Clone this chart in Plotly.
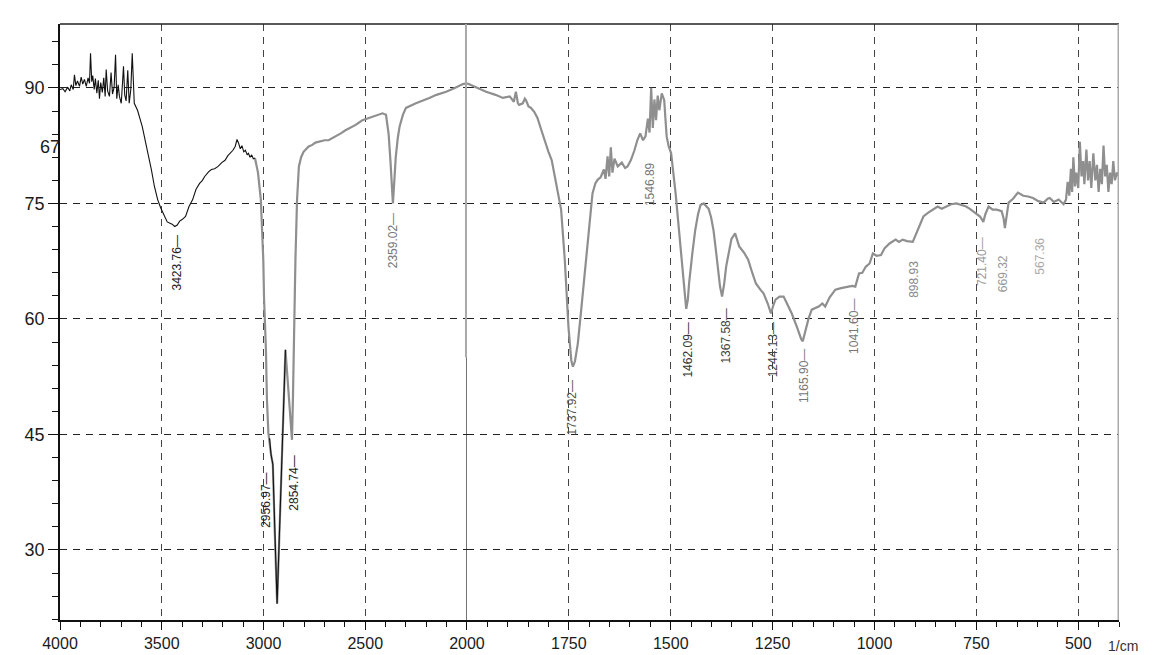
import plotly.graph_objects as go

# ---------------- data (wavenumber cm-1, %T) ----------------
# 4000-3042 (black, noisy O-H region)
wn_a = [4000, 3986, 3975, 3962, 3952, 3945, 3935, 3929, 3922, 3914, 3904, 3896, 3888, 3880,
        3871, 3862, 3855, 3850, 3844, 3839, 3832, 3826, 3819, 3812, 3806, 3800, 3792, 3785,
        3778, 3773, 3766, 3757, 3749, 3742, 3734, 3727, 3721, 3714, 3708, 3699, 3692, 3688,
        3682, 3675, 3667, 3660, 3652, 3645, 3635, 3619, 3596, 3581, 3566, 3551, 3536, 3520,
        3505, 3489, 3473, 3449, 3436, 3424, 3412, 3400, 3383, 3366, 3348, 3332, 3314, 3300,
        3289, 3270, 3256, 3240, 3223, 3205, 3189, 3175, 3164, 3150, 3139, 3130, 3122, 3114,
        3106, 3097, 3089, 3080, 3074, 3066, 3058, 3050, 3042]
t_a = [89.8, 89.9, 89.5, 90.1, 89.6, 90.4, 89.8, 91.7, 90.3, 90.9, 90.2, 91.4, 90.5, 91.1,
       90.2, 91.3, 90.6, 94.5, 90.8, 91.6, 89.8, 91.2, 89.3, 91.0, 88.6, 90.7, 89.4, 91.3,
       88.9, 92.4, 89.6, 88.9, 92.0, 89.2, 90.1, 94.3, 88.6, 90.4, 88.9, 88.0, 91.0, 92.8,
       89.1, 88.3, 92.3, 88.0, 89.8, 94.5, 88.0, 87.1, 85.0, 83.2, 81.1, 79.4, 77.2, 75.5,
       74.4, 73.5, 72.6, 72.3, 72.0, 72.2, 72.7, 72.9, 73.3, 74.6, 75.5, 76.8, 77.6, 78.0,
       78.5, 79.1, 79.4, 79.5, 79.8, 80.3, 80.6, 81.2, 81.5, 81.9, 82.4, 83.3, 82.8, 82.1,
       82.5, 81.7, 81.9, 81.3, 81.5, 81.0, 81.3, 80.8, 80.9]

# 3042-2000 (grey)
wn_b = [3042, 3027, 3013, 3007, 3001, 2997, 2988, 2983, 2976, 2963, 2954, 2945, 2933, 2892,
        2880, 2870, 2860, 2855, 2850, 2846, 2843, 2835, 2826, 2815, 2803, 2778, 2760, 2745,
        2729, 2700, 2680, 2665, 2647, 2620, 2597, 2570, 2547, 2514, 2490, 2465, 2440, 2415,
        2398, 2385, 2376, 2368, 2364, 2358, 2350, 2340, 2331, 2315, 2300, 2251, 2220, 2185,
        2150, 2102, 2060, 2020, 2000]
t_b = [80.9, 79.0, 75.5, 72.0, 67.7, 62.5, 56.0, 49.5, 45.2, 42.4, 41.1, 32.6, 23.0, 56.0,
       52.0, 47.5, 44.3, 50.0, 58.0, 62.5, 67.7, 75.5, 79.8, 81.0, 81.7, 82.4, 82.6, 82.9,
       83.0, 83.2, 83.2, 83.4, 83.7, 84.1, 84.5, 84.9, 85.2, 85.8, 86.0, 86.3, 86.5, 86.7,
       86.5, 84.0, 80.5, 76.5, 75.0, 77.5, 81.0, 83.5, 85.0, 86.5, 87.4, 88.0, 88.3, 88.7,
       89.1, 89.5, 90.0, 90.5, 90.6]

# black overlay of the C-H doublet bottom
wn_c = [2970, 2963, 2954, 2945, 2933, 2892]
t_c = [44.5, 42.4, 41.1, 32.6, 23.0, 56.0]

# 2000-400 (grey)
wn_d = [2000, 1975, 1953, 1930, 1912, 1895, 1885, 1880, 1875, 1872, 1863, 1858, 1855, 1849,
        1843, 1835, 1827, 1818, 1808, 1800, 1792, 1781, 1769, 1760, 1751, 1744, 1740, 1735,
        1728, 1720, 1712, 1702, 1692, 1685, 1679, 1672, 1664, 1660, 1655, 1651, 1647, 1643,
        1638, 1630, 1620, 1612, 1606, 1598, 1589, 1582, 1575, 1568, 1562, 1556, 1552, 1548,
        1544, 1540, 1536, 1532, 1528, 1522, 1516, 1513, 1510, 1505, 1499, 1488, 1477, 1467,
        1462, 1458, 1455, 1447, 1440, 1433, 1427, 1419, 1412, 1407, 1401, 1395, 1390, 1385,
        1379, 1374, 1369, 1364, 1357, 1351, 1342, 1332, 1320, 1310, 1300, 1291, 1280, 1272,
        1262, 1254, 1248, 1243, 1233, 1223, 1213, 1203, 1190, 1180, 1176, 1170, 1162, 1154,
        1145, 1137, 1128, 1121, 1110, 1096, 1082, 1067, 1055, 1047, 1038, 1030, 1021, 1012,
        1004, 995, 984, 975, 963, 948, 940, 931, 920, 906, 895, 880, 868, 856, 845, 835, 824,
        812, 799, 785, 775, 766, 755, 741, 735, 733, 728, 720, 710, 700, 688, 683, 680, 676,
        671, 660, 648, 635, 623, 611, 598, 585, 575, 570, 560, 548, 536, 530, 526, 522, 518,
        515, 512, 508, 505, 500, 496, 492, 488, 485, 480, 476, 472, 468, 463, 458, 454, 450,
        446, 442, 438, 434, 430, 426, 422, 418, 414, 410, 405, 400]
t_d = [90.6, 90.0, 89.5, 89.1, 88.7, 88.9, 88.2, 89.5, 88.0, 87.8, 88.0, 88.6, 88.4, 87.6,
       87.4, 86.9, 86.1, 84.6, 82.8, 81.7, 80.6, 77.6, 74.2, 67.7, 59.0, 54.6, 53.8, 54.5,
       56.8, 61.0, 65.5, 71.1, 76.3, 77.6, 78.1, 78.4, 79.4, 78.2, 81.1, 78.5, 82.3, 79.0,
       80.8, 79.8, 80.3, 79.6, 79.8, 80.6, 81.9, 83.2, 84.1, 83.2, 83.7, 86.0, 84.2, 90.0,
       84.8, 88.5, 85.8, 89.0, 87.1, 89.3, 88.4, 86.0, 83.7, 82.4, 81.5, 76.3, 69.8, 63.3,
       61.3, 62.5, 64.6, 68.5, 71.5, 73.6, 74.8, 75.0, 74.5, 74.3, 73.2, 71.5, 69.3, 66.8,
       64.2, 62.9, 64.5, 66.8, 69.0, 70.4, 71.1, 69.4, 68.6, 67.7, 66.0, 64.6, 63.8, 63.3,
       62.0, 60.7, 61.8, 62.5, 62.9, 62.9, 61.8, 60.7, 58.9, 57.4, 57.1, 58.3, 60.0, 61.2,
       61.4, 61.6, 62.0, 61.6, 62.8, 63.8, 64.0, 64.2, 64.3, 64.2, 65.9, 66.0, 66.8, 67.2,
       68.5, 68.2, 68.3, 69.2, 69.8, 70.3, 70.0, 70.3, 70.1, 70.0, 71.5, 73.3, 73.8, 74.2,
       74.6, 74.3, 74.6, 74.9, 75.0, 74.8, 74.6, 74.3, 73.9, 73.3, 72.8, 72.6, 73.6, 74.6,
       74.2, 74.2, 74.0, 73.0, 71.8, 73.5, 75.1, 75.6, 76.4, 76.0, 75.9, 75.7, 75.3, 75.1,
       75.6, 75.7, 75.2, 75.5, 74.9, 75.5, 77.8, 76.0, 79.5, 76.5, 81.0, 77.2, 79.0, 77.0,
       83.0, 78.5, 80.5, 77.5, 82.0, 78.0, 80.5, 77.0, 81.5, 78.0, 80.0, 76.5, 79.5, 77.5,
       82.5, 78.5, 80.0, 76.5, 79.0, 77.5, 80.5, 78.0, 79.0, 78.5]

# peak labels
lab_text = ["3423.76\u2014", "2956.97\u2014", "2854.74\u2014", "2359.02\u2014",
            "1737.92\u2014", "1546.89", "1462.09\u2014", "1367.58\u2014", "1244.13\u2014",
            "1165.90\u2014", "1041.60\u2014", "898.93", "721.40\u2014", "669.32", "567.36"]
lab_wn = [3425, 2988, 2850, 2364, 1740, 1551, 1458, 1365, 1250, 1173, 1052, 905, 736, 683, 596]
lab_t = [67.2, 36.5, 38.6, 70.2, 48.5, 77.5, 56.0, 57.8, 56.0, 52.7, 59.0, 65.1, 67.4, 65.9, 68.1]
lab_color = ["#222", "#222", "#222", "#777", "#555", "#777", "#333", "#444", "#444",
             "#777", "#777", "#888", "#999", "#999", "#aaa"]

x_ticks_left = [4000, 3500, 3000, 2500, 2000]
x_ticks_right = [1750, 1500, 1250, 1000, 750, 500]
y_ticks = [30, 45, 60, 75, 90]

# ---------------- figure ----------------
split = 0.3843
fig = go.Figure()
fig.add_trace(go.Scatter(x=wn_b, y=t_b, mode="lines", xaxis="x", yaxis="y",
                         line=dict(color="#8f8f8f", width=2.2), hoverinfo="skip"))
fig.add_trace(go.Scatter(x=wn_c, y=t_c, mode="lines", xaxis="x", yaxis="y",
                         line=dict(color="#111", width=1.1), hoverinfo="skip"))
fig.add_trace(go.Scatter(x=wn_a, y=t_a, mode="lines", xaxis="x", yaxis="y",
                         line=dict(color="#111", width=1.1), hoverinfo="skip"))
fig.add_trace(go.Scatter(x=wn_d, y=t_d, mode="lines", xaxis="x2", yaxis="y",
                         line=dict(color="#8f8f8f", width=2.2), hoverinfo="skip"))

grid_common = dict(showgrid=True, gridcolor="#444", gridwidth=1.2, griddash="7px,6px")
tickfont = dict(family="Liberation Sans, Arial, sans-serif", size=16, color="#1a1a1a")
ytickfont = dict(family="Liberation Sans, Arial, sans-serif", size=18, color="#1a1a1a")

# the page body adds an 8px offset, margins compensate for it
fig.update_layout(
    width=1159, height=655,
    margin=dict(l=52, r=48, t=16, b=43),
    paper_bgcolor="white", plot_bgcolor="white",
    showlegend=False,
    xaxis=dict(domain=[0, split], range=[4000, 2000], tickvals=x_ticks_left,
               ticks="outside", ticklen=8, tickcolor="#111", tickwidth=1.3,
               minor=dict(dtick=100, ticks="outside", ticklen=5, tickcolor="#111"),
               showline=True, linecolor="#111", linewidth=1.5, tickfont=tickfont,
               zeroline=False, anchor="y", **grid_common),
    xaxis2=dict(domain=[split, 1], range=[2000, 400], tickvals=x_ticks_right,
                ticks="outside", ticklen=8, tickcolor="#111", tickwidth=1.3,
                minor=dict(dtick=50, ticks="outside", ticklen=5, tickcolor="#111"),
                showline=True, linecolor="#111", linewidth=1.5, tickfont=tickfont,
                zeroline=False, anchor="y", **grid_common),
    yaxis=dict(range=[20.9, 98.3], tickvals=y_ticks, ticks="outside", ticklen=10,
               tickcolor="#111", tickwidth=1.3,
               minor=dict(dtick=3, ticks="outside", ticklen=6, tickcolor="#111"),
               showline=True, linecolor="#111", linewidth=1.5, tickfont=ytickfont,
               zeroline=False, showgrid=True, gridcolor="#222", gridwidth=1.2,
               griddash="7px,6px"),
)

# frame: top border, thick grey 2000 line, right grey edge
fig.add_shape(type="line", xref="paper", yref="paper", x0=0, x1=1, y0=1, y1=1,
              line=dict(color="#222", width=1.5))
fig.add_shape(type="line", xref="x", yref="y", x0=2000, x1=2000, y0=55, y1=98.3,
              line=dict(color="#aaaaaa", width=4))
fig.add_shape(type="line", xref="x", yref="y", x0=2000, x1=2000, y0=20.9, y1=55,
              line=dict(color="#222", width=1.2))
fig.add_shape(type="line", xref="x2", yref="y", x0=400, x1=400, y0=20.9, y1=98.3,
              line=dict(color="#aaaaaa", width=3))

for txt, w, t, c in zip(lab_text, lab_wn, lab_t, lab_color):
    fig.add_annotation(x=w, y=t, xref="x" if w >= 2000 else "x2", yref="y",
                       text=txt, textangle=-90, showarrow=False,
                       font=dict(family="Liberation Sans, Arial, sans-serif", size=12, color=c))

fig.add_annotation(x=-0.021, y=82.3, xref="paper", yref="y", text="67", showarrow=False,
                   font=ytickfont)
fig.add_annotation(x=1.02, y=-0.06, xref="paper", yref="paper", text="1/cm",
                   showarrow=False, font=dict(family="Liberation Sans, Arial, sans-serif",
                                              size=14, color="#333"))

fig.write_html("out.html")
